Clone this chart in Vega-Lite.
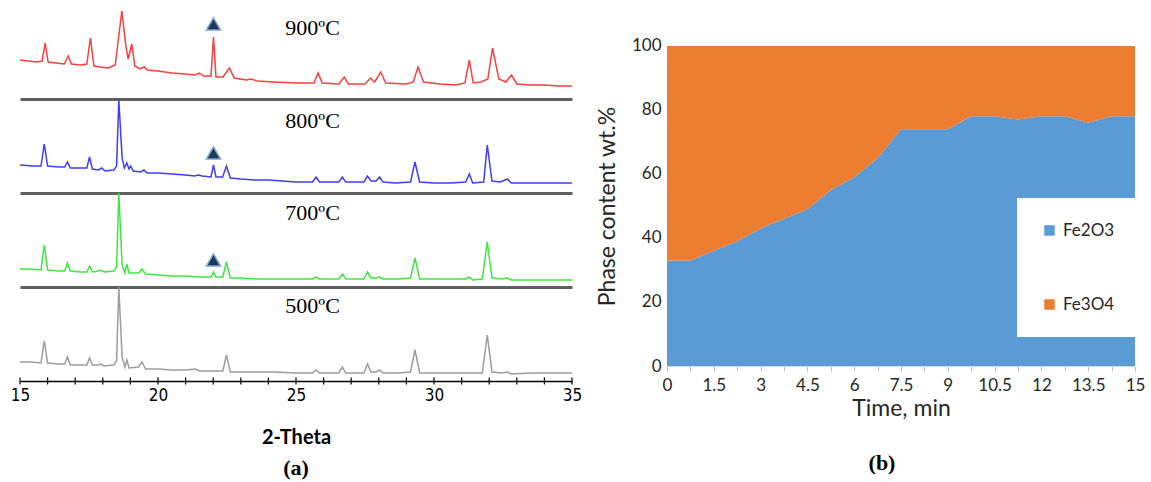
{
"$schema": "https://vega.github.io/schema/vega-lite/v6.json",
"background": "white",
"padding": {"left": 10, "top": 5, "right": 5, "bottom": 5},
"config": {"view": {"stroke": null}, "axis": {"grid": false}, "title": {"font": "Liberation Serif", "fontWeight": "bold", "fontSize": 22, "color": "black"}},
"datasets": {
"t900": [{"t":15,"i":39},{"t":15.3,"i":38},{"t":15.6,"i":37},{"t":15.8,"i":38},{"t":15.91,"i":56},{"t":16.02,"i":37},{"t":16.3,"i":36},{"t":16.6,"i":35},{"t":16.75,"i":43},{"t":16.86,"i":35},{"t":17.2,"i":34},{"t":17.42,"i":35},{"t":17.55,"i":61},{"t":17.68,"i":33},{"t":17.9,"i":32},{"t":18.2,"i":31},{"t":18.45,"i":34},{"t":18.69,"i":88},{"t":18.84,"i":52},{"t":18.92,"i":40},{"t":19.05,"i":55},{"t":19.16,"i":33},{"t":19.35,"i":30},{"t":19.5,"i":32},{"t":19.62,"i":29},{"t":20,"i":28},{"t":20.5,"i":26},{"t":21,"i":25},{"t":21.35,"i":24},{"t":21.5,"i":26},{"t":21.65,"i":23},{"t":21.92,"i":23},{"t":22.01,"i":62},{"t":22.1,"i":22},{"t":22.35,"i":22},{"t":22.59,"i":31},{"t":22.76,"i":21},{"t":23.2,"i":19},{"t":23.36,"i":20},{"t":23.6,"i":18},{"t":24.2,"i":17},{"t":25,"i":16},{"t":25.65,"i":16},{"t":25.8,"i":26},{"t":25.95,"i":16},{"t":26.55,"i":15},{"t":26.75,"i":22},{"t":26.9,"i":15},{"t":27.5,"i":15},{"t":27.7,"i":21},{"t":27.85,"i":17},{"t":28.07,"i":27},{"t":28.25,"i":16},{"t":29,"i":15},{"t":29.25,"i":17},{"t":29.42,"i":32},{"t":29.62,"i":17},{"t":30.2,"i":15},{"t":30.8,"i":14},{"t":31.12,"i":16},{"t":31.28,"i":39},{"t":31.42,"i":16},{"t":31.7,"i":17},{"t":31.95,"i":20},{"t":32.12,"i":51},{"t":32.35,"i":20},{"t":32.6,"i":17},{"t":32.81,"i":24},{"t":33,"i":15},{"t":33.5,"i":14},{"t":34,"i":14},{"t":34.5,"i":13},{"t":35,"i":13}],
"t800": [{"t":15,"i":28},{"t":15.5,"i":27},{"t":15.76,"i":27},{"t":15.88,"i":49},{"t":16,"i":27},{"t":16.4,"i":26},{"t":16.62,"i":26},{"t":16.72,"i":31},{"t":16.82,"i":25},{"t":17.2,"i":25},{"t":17.42,"i":25},{"t":17.52,"i":36},{"t":17.62,"i":24},{"t":17.85,"i":23},{"t":17.96,"i":25},{"t":18.08,"i":22},{"t":18.4,"i":23},{"t":18.5,"i":27},{"t":18.58,"i":93},{"t":18.7,"i":35},{"t":18.78,"i":25},{"t":18.87,"i":30},{"t":18.95,"i":24},{"t":19.01,"i":27},{"t":19.1,"i":22},{"t":19.38,"i":21},{"t":19.49,"i":23},{"t":19.6,"i":20},{"t":20,"i":20},{"t":20.5,"i":19},{"t":21,"i":18},{"t":21.32,"i":17},{"t":21.46,"i":18},{"t":21.6,"i":17},{"t":21.92,"i":16},{"t":22.01,"i":28},{"t":22.1,"i":16},{"t":22.34,"i":16},{"t":22.48,"i":27},{"t":22.62,"i":15},{"t":23,"i":14},{"t":23.5,"i":13},{"t":24,"i":13},{"t":24.5,"i":12},{"t":25,"i":11},{"t":25.6,"i":11},{"t":25.73,"i":16},{"t":25.85,"i":11},{"t":26.55,"i":11},{"t":26.68,"i":16},{"t":26.8,"i":11},{"t":27.46,"i":11},{"t":27.59,"i":17},{"t":27.72,"i":12},{"t":27.9,"i":12},{"t":28.03,"i":16},{"t":28.15,"i":11},{"t":28.6,"i":10},{"t":29.15,"i":11},{"t":29.31,"i":31},{"t":29.48,"i":11},{"t":30,"i":10},{"t":30.6,"i":10},{"t":31.15,"i":11},{"t":31.28,"i":19},{"t":31.4,"i":10},{"t":31.8,"i":11},{"t":31.93,"i":48},{"t":32.1,"i":12},{"t":32.4,"i":11},{"t":32.66,"i":14},{"t":32.8,"i":10},{"t":33.5,"i":10},{"t":34.2,"i":10},{"t":35,"i":10}],
"t700": [{"t":15,"i":18},{"t":15.4,"i":18},{"t":15.76,"i":17},{"t":15.88,"i":42},{"t":16,"i":17},{"t":16.4,"i":16},{"t":16.62,"i":16},{"t":16.72,"i":24},{"t":16.82,"i":16},{"t":17.2,"i":15},{"t":17.42,"i":15},{"t":17.52,"i":21},{"t":17.62,"i":15},{"t":17.85,"i":16},{"t":17.92,"i":17},{"t":18.05,"i":15},{"t":18.4,"i":16},{"t":18.5,"i":20},{"t":18.58,"i":94},{"t":18.7,"i":22},{"t":18.8,"i":14},{"t":18.87,"i":23},{"t":18.95,"i":14},{"t":19.3,"i":14},{"t":19.42,"i":18},{"t":19.55,"i":13},{"t":20,"i":12},{"t":20.5,"i":11},{"t":21,"i":11},{"t":21.5,"i":10},{"t":21.92,"i":10},{"t":22.01,"i":15},{"t":22.1,"i":10},{"t":22.35,"i":10},{"t":22.48,"i":25},{"t":22.62,"i":9},{"t":23,"i":9},{"t":23.6,"i":8},{"t":24.2,"i":8},{"t":25,"i":8},{"t":25.6,"i":8},{"t":25.73,"i":10},{"t":25.85,"i":8},{"t":26.55,"i":8},{"t":26.68,"i":13},{"t":26.8,"i":8},{"t":27.46,"i":8},{"t":27.59,"i":15},{"t":27.72,"i":9},{"t":27.9,"i":9},{"t":28.03,"i":10},{"t":28.15,"i":8},{"t":28.7,"i":8},{"t":29.15,"i":9},{"t":29.31,"i":29},{"t":29.48,"i":8},{"t":30.2,"i":8},{"t":30.8,"i":8},{"t":31.15,"i":8},{"t":31.28,"i":10},{"t":31.4,"i":7},{"t":31.75,"i":8},{"t":31.93,"i":45},{"t":32.1,"i":9},{"t":32.45,"i":8},{"t":32.66,"i":9},{"t":32.8,"i":7},{"t":33.5,"i":7},{"t":34.2,"i":7},{"t":35,"i":7}],
"t500": [{"t":15,"i":19},{"t":15.4,"i":19},{"t":15.76,"i":18},{"t":15.88,"i":40},{"t":16,"i":18},{"t":16.4,"i":17},{"t":16.62,"i":17},{"t":16.72,"i":24},{"t":16.82,"i":16},{"t":17.2,"i":16},{"t":17.42,"i":16},{"t":17.52,"i":23},{"t":17.62,"i":16},{"t":17.85,"i":16},{"t":17.92,"i":17},{"t":18.05,"i":15},{"t":18.4,"i":16},{"t":18.5,"i":20},{"t":18.58,"i":94},{"t":18.7,"i":24},{"t":18.8,"i":14},{"t":18.87,"i":21},{"t":18.95,"i":13},{"t":19.3,"i":14},{"t":19.42,"i":19},{"t":19.55,"i":12},{"t":20,"i":12},{"t":20.5,"i":11},{"t":21,"i":11},{"t":21.35,"i":12},{"t":21.5,"i":10},{"t":22,"i":10},{"t":22.35,"i":10},{"t":22.48,"i":26},{"t":22.62,"i":9},{"t":23,"i":9},{"t":23.6,"i":9},{"t":24.2,"i":9},{"t":25,"i":8},{"t":25.6,"i":8},{"t":25.73,"i":11},{"t":25.85,"i":8},{"t":26.55,"i":8},{"t":26.68,"i":14},{"t":26.8,"i":8},{"t":27.46,"i":8},{"t":27.59,"i":17},{"t":27.72,"i":9},{"t":27.9,"i":9},{"t":28.03,"i":11},{"t":28.15,"i":8},{"t":28.7,"i":8},{"t":29.15,"i":9},{"t":29.31,"i":31},{"t":29.48,"i":8},{"t":30.2,"i":8},{"t":30.8,"i":8},{"t":31.2,"i":8},{"t":31.75,"i":8},{"t":31.93,"i":46},{"t":32.1,"i":9},{"t":32.45,"i":8},{"t":32.66,"i":9},{"t":32.8,"i":7},{"t":33.5,"i":8},{"t":34.2,"i":8},{"t":35,"i":8}],
"ticks": [{"t":15},{"t":16},{"t":17},{"t":18},{"t":19},{"t":20},{"t":21},{"t":22},{"t":23},{"t":24},{"t":25},{"t":26},{"t":27},{"t":28},{"t":29},{"t":30},{"t":31},{"t":32},{"t":33},{"t":34},{"t":35}],
"phase": [
{"time":0,"phase":"Fe2O3","pct":33},{"time":0,"phase":"Fe3O4","pct":67},
{"time":0.75,"phase":"Fe2O3","pct":33},{"time":0.75,"phase":"Fe3O4","pct":67},
{"time":1.5,"phase":"Fe2O3","pct":36},{"time":1.5,"phase":"Fe3O4","pct":64},
{"time":2.25,"phase":"Fe2O3","pct":39},{"time":2.25,"phase":"Fe3O4","pct":61},
{"time":3,"phase":"Fe2O3","pct":43},{"time":3,"phase":"Fe3O4","pct":57},
{"time":3.75,"phase":"Fe2O3","pct":46},{"time":3.75,"phase":"Fe3O4","pct":54},
{"time":4.5,"phase":"Fe2O3","pct":49},{"time":4.5,"phase":"Fe3O4","pct":51},
{"time":5.25,"phase":"Fe2O3","pct":55},{"time":5.25,"phase":"Fe3O4","pct":45},
{"time":6,"phase":"Fe2O3","pct":59},{"time":6,"phase":"Fe3O4","pct":41},
{"time":6.75,"phase":"Fe2O3","pct":65},{"time":6.75,"phase":"Fe3O4","pct":35},
{"time":7.5,"phase":"Fe2O3","pct":74},{"time":7.5,"phase":"Fe3O4","pct":26},
{"time":8.25,"phase":"Fe2O3","pct":74},{"time":8.25,"phase":"Fe3O4","pct":26},
{"time":9,"phase":"Fe2O3","pct":74},{"time":9,"phase":"Fe3O4","pct":26},
{"time":9.75,"phase":"Fe2O3","pct":78},{"time":9.75,"phase":"Fe3O4","pct":22},
{"time":10.5,"phase":"Fe2O3","pct":78},{"time":10.5,"phase":"Fe3O4","pct":22},
{"time":11.25,"phase":"Fe2O3","pct":77},{"time":11.25,"phase":"Fe3O4","pct":23},
{"time":12,"phase":"Fe2O3","pct":78},{"time":12,"phase":"Fe3O4","pct":22},
{"time":12.75,"phase":"Fe2O3","pct":78},{"time":12.75,"phase":"Fe3O4","pct":22},
{"time":13.5,"phase":"Fe2O3","pct":76},{"time":13.5,"phase":"Fe3O4","pct":24},
{"time":14.25,"phase":"Fe2O3","pct":78},{"time":14.25,"phase":"Fe3O4","pct":22},
{"time":15,"phase":"Fe2O3","pct":78},{"time":15,"phase":"Fe3O4","pct":22}
]
},
"spacing": 14,
"hconcat": [
{
"title": {"text": "(a)", "orient": "bottom", "anchor": "middle", "offset": 11},
"spacing": 0,
"bounds": "flush",
"vconcat": [
{
"width": 552, "height": 94,
"layer": [
{"data": {"name": "t900"}, "mark": {"type": "line", "color": "#ff3d3d", "strokeWidth": 1.5},
 "encoding": {"x": {"field": "t", "type": "quantitative", "scale": {"domain": [15, 35], "nice": false, "zero": false}, "axis": {"title": null, "labels": false, "ticks": false, "domainColor": "#606060", "domainWidth": 3}},
 "y": {"field": "i", "type": "quantitative", "scale": {"domain": [0, 94], "nice": false}, "axis": null}}},
{"data": {"values": [{"label": "900ºC"}]}, "mark": {"type": "text", "font": "Liberation Serif", "fontSize": 22, "color": "black"},
 "encoding": {"text": {"field": "label"}, "x": {"datum": 25.6}, "y": {"datum": 71}}},
{"data": {"values": [{"marker": "triangle"}]}, "mark": {"type": "point", "shape": "triangle-up", "filled": true, "fill": "#1c3a57", "stroke": "#7aa6cf", "strokeWidth": 1.5, "opacity": 1, "size": 200},
 "encoding": {"x": {"datum": 22.01}, "y": {"datum": 75}}}
]
},
{
"width": 552, "height": 94,
"layer": [
{"data": {"name": "t800"}, "mark": {"type": "line", "color": "#3d3dff", "strokeWidth": 1.5},
 "encoding": {"x": {"field": "t", "type": "quantitative", "scale": {"domain": [15, 35], "nice": false, "zero": false}, "axis": {"title": null, "labels": false, "ticks": false, "domainColor": "#606060", "domainWidth": 3}},
 "y": {"field": "i", "type": "quantitative", "scale": {"domain": [0, 94], "nice": false}, "axis": null}}},
{"data": {"values": [{"label": "800ºC"}]}, "mark": {"type": "text", "font": "Liberation Serif", "fontSize": 22, "color": "black"},
 "encoding": {"text": {"field": "label"}, "x": {"datum": 25.6}, "y": {"datum": 72}}},
{"data": {"values": [{"marker": "triangle"}]}, "mark": {"type": "point", "shape": "triangle-up", "filled": true, "fill": "#1c3a57", "stroke": "#7aa6cf", "strokeWidth": 1.5, "opacity": 1, "size": 200},
 "encoding": {"x": {"datum": 22.01}, "y": {"datum": 40}}}
]
},
{
"width": 552, "height": 94,
"layer": [
{"data": {"name": "t700"}, "mark": {"type": "line", "color": "#3de83d", "strokeWidth": 1.5},
 "encoding": {"x": {"field": "t", "type": "quantitative", "scale": {"domain": [15, 35], "nice": false, "zero": false}, "axis": {"title": null, "labels": false, "ticks": false, "domainColor": "#606060", "domainWidth": 3}},
 "y": {"field": "i", "type": "quantitative", "scale": {"domain": [0, 94], "nice": false}, "axis": null}}},
{"data": {"values": [{"label": "700ºC"}]}, "mark": {"type": "text", "font": "Liberation Serif", "fontSize": 22, "color": "black"},
 "encoding": {"text": {"field": "label"}, "x": {"datum": 25.6}, "y": {"datum": 74}}},
{"data": {"values": [{"marker": "triangle"}]}, "mark": {"type": "point", "shape": "triangle-up", "filled": true, "fill": "#1c3a57", "stroke": "#7aa6cf", "strokeWidth": 1.5, "opacity": 1, "size": 200},
 "encoding": {"x": {"datum": 22.01}, "y": {"datum": 27}}}
]
},
{
"width": 552, "height": 94,
"layer": [
{"data": {"name": "t500"}, "mark": {"type": "line", "color": "#9c9c9c", "strokeWidth": 1.5},
 "encoding": {"x": {"field": "t", "type": "quantitative", "scale": {"domain": [15, 35], "nice": false, "zero": false},
  "axis": {"title": "2-Theta", "values": [15, 20, 25, 30, 35], "format": "d", "labelOverlap": false, "labelFlush": false, "ticks": false, "tickSize": 0, "labelFont": "Liberation Sans Narrow, DejaVu Sans Condensed, sans-serif", "labelFontSize": 17, "labelColor": "black", "domainColor": "black", "domainWidth": 1.5, "labelPadding": 6, "titleFont": "Lato", "titleFontWeight": "bold", "titleFontSize": 20, "titleColor": "black", "titlePadding": 24}},
 "y": {"field": "i", "type": "quantitative", "scale": {"domain": [0, 94], "nice": false}, "axis": null}}},
{"data": {"name": "ticks"}, "mark": {"type": "tick", "orient": "vertical", "size": 7, "thickness": 1.2, "color": "black", "opacity": 1},
 "encoding": {"x": {"field": "t", "type": "quantitative"}, "y": {"datum": 0}}},
{"data": {"values": [{"label": "500ºC"}]}, "mark": {"type": "text", "font": "Liberation Serif", "fontSize": 22, "color": "black"},
 "encoding": {"text": {"field": "label"}, "x": {"datum": 25.6}, "y": {"datum": 75}}}
]
}
]
},
{
"title": {"text": "(b)", "orient": "bottom", "anchor": "middle", "offset": 33, "dx": -19},
"width": 468, "height": 361,
"data": {"name": "phase"},
"mark": {"type": "area"},
"encoding": {
 "x": {"field": "time", "type": "quantitative", "scale": {"domain": [0, 15], "nice": false},
  "axis": {"title": "Time, min", "values": [0,0.75,1.5,2.25,3,3.75,4.5,5.25,6,6.75,7.5,8.25,9,9.75,10.5,11.25,12,12.75,13.5,14.25,15], "labelExpr": "datum.value % 1.5 === 0 ? '' + datum.value : ''", "labelOverlap": "greedy", "labelSeparation": 0, "labelFlush": false, "labelFont": "Lato", "labelFontSize": 17, "labelColor": "#262626", "domainColor": "#d9d9d9", "tickColor": "#bfbfbf", "tickSize": 5, "labelPadding": 6, "titleFont": "Lato", "titleFontSize": 23, "titleFontWeight": "normal", "titleColor": "#262626", "titlePadding": 4}},
 "y": {"field": "pct", "type": "quantitative", "stack": "zero", "scale": {"domain": [0, 112.8], "nice": false},
  "axis": {"title": "Phase content wt.%", "values": [0,20,40,60,80,100], "domain": false, "ticks": false, "labelFont": "Lato", "labelFontSize": 17, "labelColor": "#262626", "labelPadding": 6, "titleFont": "Lato", "titleFontSize": 23, "titleFontWeight": "normal", "titleColor": "#262626", "titleY": 201, "titlePadding": 12}},
 "order": {"field": "phase", "sort": "ascending"},
 "color": {"field": "phase", "type": "nominal", "scale": {"domain": ["Fe2O3", "Fe3O4"], "range": ["#5b9bd5", "#ed7d31"]},
  "legend": {"title": null, "orient": "none", "legendX": 997, "legendY": 193, "fillColor": "white", "padding": 24, "rowPadding": 56, "symbolType": "square", "symbolSize": 110, "symbolStrokeWidth": 0, "labelFont": "Lato", "labelFontSize": 17, "labelColor": "#262626", "labelOffset": 5}}
}
}
]
}
